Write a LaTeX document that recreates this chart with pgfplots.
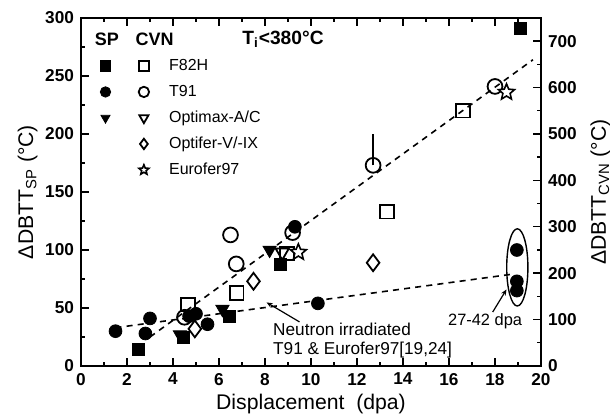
\documentclass[border=0pt]{standalone}
\usepackage{fontspec}
\setmainfont{Liberation Sans}
\usepackage{pgfplots}
\pgfplotsset{compat=1.18}
\usetikzlibrary{arrows.meta}

% open five-point star
\pgfdeclareplotmark{ostar}{%
  \pgfpathmoveto{\pgfqpointpolar{90}{\pgfplotmarksize}}%
  \pgfpathlineto{\pgfqpointpolar{126}{0.45\pgfplotmarksize}}%
  \pgfpathlineto{\pgfqpointpolar{162}{\pgfplotmarksize}}%
  \pgfpathlineto{\pgfqpointpolar{198}{0.45\pgfplotmarksize}}%
  \pgfpathlineto{\pgfqpointpolar{234}{\pgfplotmarksize}}%
  \pgfpathlineto{\pgfqpointpolar{270}{0.45\pgfplotmarksize}}%
  \pgfpathlineto{\pgfqpointpolar{306}{\pgfplotmarksize}}%
  \pgfpathlineto{\pgfqpointpolar{342}{0.45\pgfplotmarksize}}%
  \pgfpathlineto{\pgfqpointpolar{18}{\pgfplotmarksize}}%
  \pgfpathlineto{\pgfqpointpolar{54}{0.45\pgfplotmarksize}}%
  \pgfpathclose
  \pgfusepathqfillstroke}

\pgfplotsset{
  base/.style={scale only axis, width=230pt, height=174pt, at={(0,0)}, anchor=south west,
    xmin=0, xmax=20, tick align=inside,
    major tick length=4pt, minor tick length=2.2pt,
    every tick/.style={black, line width=0.7pt},
    axis line style={line width=1.1pt},
    tick label style={font=\fontsize{8.6}{9}\selectfont\bfseries},
    /pgf/number format/assume math mode=true,
    label style={font=\fontsize{10.6}{12}\selectfont}},
  lgmark/.style={legend image code/.code={%
    \draw[##1, only marks, mark size=2.6pt, mark indices={2}]
      plot coordinates {(0pt,0pt) (4pt,0pt) (8pt,0pt)};}},
  fsq/.style={only marks, mark=square*, black, mark size=3pt},
  fci/.style={only marks, mark=*, black, mark size=3.2pt},
  ftr/.style={only marks, mark=triangle*, black, mark size=3.8pt, mark options={rotate=180}},
  osq/.style={only marks, mark=square, black, line width=0.9pt, mark size=3.4pt},
  oci/.style={only marks, mark=o, black, line width=0.9pt, mark size=3.7pt},
  otr/.style={only marks, mark=triangle, black, line width=0.9pt, mark size=3.8pt, mark options={rotate=180}},
  odi/.style={only marks, mark=diamond, black, line width=0.9pt, mark size=4.2pt},
  ost/.style={only marks, mark=ostar, black, line width=0.8pt, mark size=4.2pt, mark options={fill=white}},
}

\begin{document}
\begin{tikzpicture}
\begin{axis}[base,
  ymin=0, ymax=300, ytick={0,50,...,300}, minor y tick num=1, ytick pos=left,
  xtick={0,2,...,20}, minor x tick num=1,
  xlabel={Displacement\ \ (dpa)},
  xlabel style={yshift=2.5pt},
  ylabel={ΔDBTT\textsubscript{SP} (°C)},
  ylabel shift=-3pt,
  legend style={at={(axis cs:0.7,265.3)}, anchor=north west, draw=none, fill=none,
    inner sep=0pt, font=\fontsize{8}{9}\selectfont, legend columns=2,
    row sep=5.7pt, column sep=0pt,
    nodes={inner sep=0pt, text height=5.7pt, text depth=1.6pt},
    /tikz/column 2/.style={column sep=13pt},
    /tikz/column 3/.style={column sep=10pt}},
  legend cell align=left,
]
\addlegendimage{lgmark, fsq}
\addlegendimage{lgmark, osq}
\addlegendimage{lgmark, fci}
\addlegendimage{lgmark, oci}
\addlegendimage{lgmark, ftr}
\addlegendimage{lgmark, otr}
\addlegendimage{empty legend}
\addlegendimage{lgmark, odi}
\addlegendimage{empty legend}
\addlegendimage{lgmark, ost}
\legend{\mbox{},F82H,\mbox{},T91,\mbox{},Optimax-A/C,\mbox{},Optifer-V/-IX,\mbox{},Eurofer97}

% trend lines
\addplot[forget plot, black, line width=0.8pt, dash pattern=on 3pt off 2.6pt]
  coordinates {(3.0,25) (19.65,264)};
\addplot[forget plot, black, line width=0.8pt, dash pattern=on 3pt off 2.6pt]
  coordinates {(1.5,33) (18.7,79)};

% SP (filled)
\addplot[forget plot, fsq] coordinates {(2.5,14) (4.45,25) (6.45,43) (8.65,88) (19.1,291)};
\addplot[forget plot, fci] coordinates {(1.5,30) (3.0,41) (2.8,28) (4.7,43) (5.0,45) (5.5,36)
  (9.3,120) (10.3,54) (18.95,100) (18.95,73) (18.95,65)};
\addplot[forget plot, ftr] coordinates {(4.3,27) (6.15,49) (8.2,100)};

% CVN (open)
\addplot[forget plot, osq, fill=white] coordinates {(4.65,53) (6.77,63) (8.95,97) (13.3,133) (16.6,220)};
\addplot[forget plot, oci, fill=white] coordinates {(4.5,42) (6.5,113) (6.75,88) (9.2,115) (18.0,241)};
\addplot[forget plot, oci, fill=white, error bars/.cd, y dir=plus, y explicit,
  error mark=none, error bar style={line width=1pt}]
  coordinates {(12.7,173) +- (0,27)};
\addplot[forget plot, otr, fill=white] coordinates {(8.75,98)};
\addplot[forget plot, odi, fill=white] coordinates {(4.95,32) (7.5,73) (12.7,89)};
\addplot[forget plot, ost] coordinates {(9.45,98) (18.5,236)};

% annotations
\node[font=\fontsize{9}{10}\selectfont\bfseries] at (axis cs:1.13,281.5) {SP};
\node[font=\fontsize{9}{10}\selectfont\bfseries] at (axis cs:3.2,281.5) {CVN};
\node[font=\fontsize{9.6}{10}\selectfont\bfseries, anchor=west, inner sep=0pt] at (axis cs:7.0,282) {T\textsubscript{i}<380°C};
\draw[line width=0.7pt] (axis cs:18.97,85) ellipse [x radius=5.3pt, y radius=19.3pt];
\node[font=\fontsize{8.2}{9}\selectfont] at (axis cs:17.57,38.4) {27-42 dpa};
\draw[line width=0.6pt, -{Stealth[length=3pt,width=2.5pt]}] (axis cs:17.9,46.5) -- (axis cs:18.5,66);
\node[font=\fontsize{8.6}{9}\selectfont, anchor=west] at (axis cs:8.05,31.5) {Neutron irradiated};
\node[font=\fontsize{8.6}{9}\selectfont, anchor=west] at (axis cs:8.05,13.4) {T91 \& Eurofer97[19,24]};
\draw[line width=0.6pt, -{Stealth[length=3pt,width=2.5pt]}] (axis cs:9.5,38) -- (axis cs:8.07,54.8);
\end{axis}

\begin{axis}[base,
  axis x line=none, axis y line*=right,
  ymin=0, ymax=750, ytick={0,100,...,700}, minor y tick num=1,
  ylabel={ΔDBTT\textsubscript{CVN} (°C)},
]
\end{axis}
\pgfresetboundingbox
\path[use as bounding box] (-40.5pt,-24.5pt) rectangle (264.5pt,183pt);
\end{tikzpicture}
\end{document}
